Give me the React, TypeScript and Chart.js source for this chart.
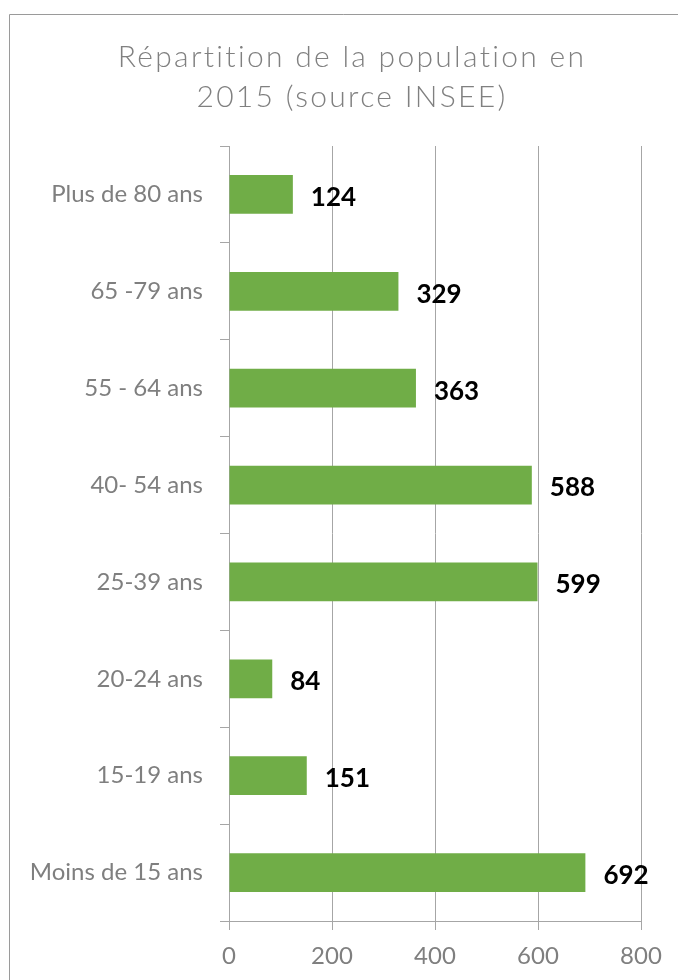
import React, { useEffect, useRef } from "react";
import { Chart, registerables } from "chart.js";

Chart.register(...registerables);

const titleLines = ["Répartition de la population en", "2015 (source INSEE)"];
const categories = [
  "Plus de 80 ans",
  "65 -79 ans",
  "55 - 64 ans",
  "40- 54 ans",
  "25-39 ans",
  "20-24 ans",
  "15-19 ans",
  "Moins de 15 ans",
];
const values = [124, 329, 363, 588, 599, 84, 151, 692];
const xMin = 0;
const xMax = 800;
const xStep = 200;

const GRAY_TEXT = "#7f7f7f";
const GRID = "#a6a6a6";
const BAR = "#70ad47";

const framePlugin = {
  id: "frame",
  beforeDraw(chart: any) {
    const ctx = chart.ctx;
    ctx.save();
    ctx.fillStyle = "#ffffff";
    ctx.fillRect(0, 0, chart.width, chart.height);
    ctx.strokeStyle = "#9a9a9a";
    ctx.lineWidth = 1;
    ctx.beginPath();
    ctx.moveTo(9.5, chart.height);
    ctx.lineTo(9.5, 14.5);
    ctx.lineTo(chart.width, 14.5);
    ctx.stroke();
    ctx.restore();
  },
  afterDraw(chart: any) {
    const ctx = chart.ctx;
    ctx.save();
    ctx.fillStyle = "#808080";
    ctx.font = "300 30px Lato";
    ctx.textAlign = "center";
    ctx.textBaseline = "alphabetic";
    try {
      (ctx as any).letterSpacing = "2.3px";
    } catch (e) {}
    ctx.fillText(titleLines[0], 352, 67);
    ctx.fillText(titleLines[1], 352, 107);
    ctx.restore();
  },
};

const valueLabelPlugin = {
  id: "valueLabels",
  afterDatasetsDraw(chart: any) {
    const ctx = chart.ctx;
    const meta = chart.getDatasetMeta(0);
    ctx.save();
    ctx.fillStyle = "#000000";
    ctx.font = "bold 26px Lato";
    ctx.textAlign = "left";
    ctx.textBaseline = "middle";
    meta.data.forEach((bar: any, i: number) => {
      ctx.fillText(String(values[i]), bar.x + 18, bar.y + 3);
    });
    ctx.restore();
  },
};

export default function App() {
  const ref = useRef<HTMLCanvasElement>(null);
  useEffect(() => {
    if (!ref.current) return;
    const chart = new Chart(ref.current, {
      type: "bar",
      data: {
        labels: categories,
        datasets: [
          {
            data: values,
            backgroundColor: BAR,
            borderWidth: 0,
            barPercentage: 0.4,
            categoryPercentage: 1,
          },
        ],
      },
      options: {
        indexAxis: "y",
        animation: false,
        responsive: false,
        maintainAspectRatio: false,
        layout: { padding: { left: 0, right: 37, top: 146, bottom: 0 } },
        plugins: {
          legend: { display: false },
          title: { display: false },
          tooltip: { enabled: false },
        },
        scales: {
          x: {
            min: xMin,
            max: xMax,
            ticks: {
              stepSize: xStep,
              color: GRAY_TEXT,
              font: { family: "Lato", size: 24 },
              padding: 12,
            },
            grid: { color: GRID, lineWidth: 1, tickLength: 9, drawTicks: true },
            border: { display: true, color: GRID },
            afterFit(scale: any) {
              scale.height = 59;
            },
          },
          y: {
            ticks: {
              color: GRAY_TEXT,
              font: { family: "Lato", size: 24 },
              padding: 17,
            },
            grid: {
              color: GRID,
              drawOnChartArea: false,
              drawTicks: true,
              tickLength: 9,
              offset: true,
            },
            border: { display: true, color: GRID },
            afterFit(scale: any) {
              scale.width = 229;
            },
          },
        },
      },
      plugins: [framePlugin, valueLabelPlugin],
    } as any);
    return () => chart.destroy();
  }, []);
  return (
    <div style={{ position: "absolute", left: 0, top: 0, width: 678, height: 980 }}>
      <canvas ref={ref} width={678} height={980} style={{ display: "block" }} />
    </div>
  );
}
